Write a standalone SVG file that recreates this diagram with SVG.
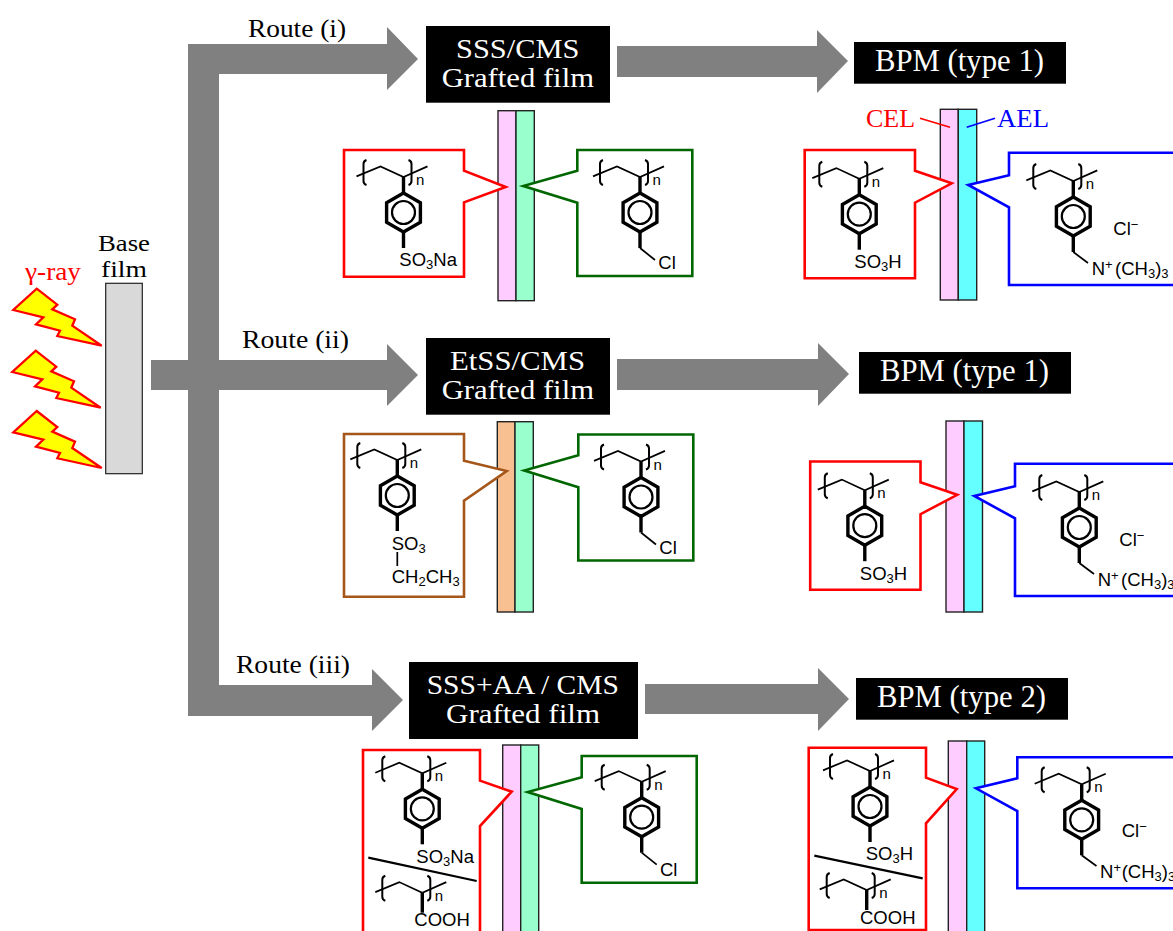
<svg xmlns="http://www.w3.org/2000/svg" width="1173" height="931" viewBox="0 0 1173 931">
<style>
text{font-family:"Liberation Serif","DejaVu Serif",serif}
.lbl{font-size:26px;fill:#000}
.base{font-size:23px;fill:#000}
.box{font-size:28px;fill:#fff}
.bpm{font-size:31px;fill:#fff}
.red{fill:#f00}.blue{fill:#00f}
.chem{font-family:"Liberation Sans",Arial,sans-serif;font-size:18.5px;fill:#000}
.n{font-family:"Liberation Sans",Arial,sans-serif;font-size:15px;fill:#000}
.arrow{fill:#808080}
.bolt{fill:#ff0;stroke:#f00;stroke-width:2.3}
.film{stroke:#222;stroke-width:1.4}
.call{fill:#fff;stroke-width:2.6}
.thin{fill:none;stroke:#000;stroke-width:1.7}
.thick{fill:none;stroke:#000;stroke-width:3.4}
.mid{fill:none;stroke:#000;stroke-width:2}
</style>
<defs>
<g id="chain">
<path class="thin" d="M-47,-.6L-23,-10.6L0,0L24,-10.6"/>
<path class="mid" d="M-37,-17Q-40,-16 -40,-13V4Q-40,7 -37,8M5,-17Q8,-16 8,-13V4Q8,7 5,8"/>
<text class="n" x="12.5" y="8">n</text>
</g>
<g id="ring">
<path class="thick" d="M0,0V16"/>
<path class="thick" d="M0,16L16.9,25.75V45.25L0,55L-16.9,45.25V25.75Z"/>
<circle class="mid" style="stroke-width:2.2" cx="0" cy="35.5" r="11.5"/>
<path class="thick" d="M0,55V71"/>
</g>
<g id="sty"><use href="#chain"/><use href="#ring"/></g>
<g id="aa"><use href="#chain"/><path class="thick" d="M0,0V20"/></g>
<path id="bolt" class="bolt" d="M36.7,288.7L57.3,304.7L52.3,309.3L75,319.3L72.3,325.7L101.7,345.7L57.3,336L60,330.7L36,324.3L43.3,317.3L13.3,310Z"/>
</defs>

<g id="connectors">
<path class="arrow" d="M188,44H387V27L418,59L387,90V74H219V360H387V344L418,375L387,406V390H219V685H372V669L403,700L372,731V716H188V390H151V360H188Z"/>
<path class="arrow" d="M617,46H817V30L848,61L817,93V77H617Z"/>
<path class="arrow" d="M617,359H818V343L849,374L818,406V390H617Z"/>
<path class="arrow" d="M645,684H818V668L849,699L818,731V714H645Z"/>
</g>

<g id="labels">
<text class="lbl" x="248" y="37" textLength="98" lengthAdjust="spacingAndGlyphs">Route (i)</text>
<text class="lbl" x="242" y="348" textLength="107" lengthAdjust="spacingAndGlyphs">Route (ii)</text>
<text class="lbl" x="236" y="673" textLength="114" lengthAdjust="spacingAndGlyphs">Route (iii)</text>
</g>

<g id="base-film">
<rect x="105.7" y="283.3" width="36.6" height="190.4" fill="#d9d9d9" stroke="#222" stroke-width="1.2"/>
<text class="base" x="98" y="251" textLength="52" lengthAdjust="spacingAndGlyphs">Base</text>
<text class="base" x="101" y="276.5" textLength="46" lengthAdjust="spacingAndGlyphs">film</text>
</g>
<g id="gamma-ray">
<text class="lbl red" x="25" y="280" textLength="56" lengthAdjust="spacingAndGlyphs">γ-ray</text>
<use href="#bolt"/>
<use href="#bolt" transform="translate(-1,62)"/>
<use href="#bolt" transform="translate(0,122.3)"/>
</g>

<g id="box-sss">
<rect x="426" y="26" width="184" height="76.7"/>
<text class="box" x="456" y="57.5" textLength="123.3" lengthAdjust="spacingAndGlyphs">SSS/CMS</text>
<text class="box" x="441.7" y="86.7" textLength="152.3" lengthAdjust="spacingAndGlyphs">Grafted film</text>
</g>
<g id="box-etss">
<rect x="426" y="338" width="184" height="76.7"/>
<text class="box" x="450" y="370" textLength="135" lengthAdjust="spacingAndGlyphs">EtSS/CMS</text>
<text class="box" x="441.7" y="399" textLength="152.3" lengthAdjust="spacingAndGlyphs">Grafted film</text>
</g>
<g id="box-sssaa">
<rect x="409" y="662" width="229" height="77"/>
<text class="box" x="426.7" y="693.5" textLength="192.3" lengthAdjust="spacingAndGlyphs">SSS+AA / CMS</text>
<text class="box" x="446" y="722.5" textLength="154" lengthAdjust="spacingAndGlyphs">Grafted film</text>
</g>
<g id="bpm-1a">
<rect x="854" y="42" width="212" height="41.7"/>
<text class="bpm" x="875" y="70.7" textLength="169" lengthAdjust="spacingAndGlyphs">BPM (type 1)</text>
</g>
<g id="bpm-1b">
<rect x="859" y="352" width="212" height="41.7"/>
<text class="bpm" x="880" y="380.7" textLength="169" lengthAdjust="spacingAndGlyphs">BPM (type 1)</text>
</g>
<g id="bpm-2">
<rect x="856" y="678" width="212" height="41.7"/>
<text class="bpm" x="877" y="706.7" textLength="169" lengthAdjust="spacingAndGlyphs">BPM (type 2)</text>
</g>

<g id="membrane-1L">
<rect class="film" x="498" y="110.7" width="18" height="190" fill="#ffccff"/>
<rect class="film" x="516" y="110.7" width="18.3" height="190" fill="#99ffcc"/>
</g>
<g id="membrane-1R">
<rect class="film" x="940.3" y="109.3" width="18" height="190.7" fill="#ffccff"/>
<rect class="film" x="958.3" y="109.3" width="18.4" height="190.7" fill="#66ffff"/>
</g>
<g id="membrane-2L">
<rect class="film" x="497.3" y="421.7" width="17.7" height="190.3" fill="#f8c090"/>
<rect class="film" x="515" y="421.7" width="18.3" height="190.3" fill="#99ffcc"/>
</g>
<g id="membrane-2R">
<rect class="film" x="946" y="421" width="18" height="191" fill="#ffccff"/>
<rect class="film" x="964" y="421" width="18.5" height="191" fill="#66ffff"/>
</g>
<g id="membrane-3L">
<rect class="film" x="502.7" y="745" width="18" height="200" fill="#ffccff"/>
<rect class="film" x="520.7" y="745" width="18" height="200" fill="#99ffcc"/>
</g>
<g id="membrane-3R">
<rect class="film" x="948.3" y="741" width="18.4" height="204" fill="#ffccff"/>
<rect class="film" x="966.7" y="741" width="18" height="204" fill="#66ffff"/>
</g>

<g id="cel-ael">
<text class="lbl red" x="866" y="127" textLength="49" lengthAdjust="spacingAndGlyphs">CEL</text>
<text class="lbl blue" x="997" y="127" textLength="52" lengthAdjust="spacingAndGlyphs">AEL</text>
<path d="M920,118.3L950,127.3" stroke="#f00" stroke-width="1.7" fill="none"/>
<path d="M995,118.3L966.7,127.3" stroke="#00f" stroke-width="1.7" fill="none"/>
</g>

<g id="callout-sssna">
<path class="call" stroke="#f00" d="M344,150H464V170.7L505.7,187L464,202.3V276.7H344Z"/>
<use href="#sty" x="403.5" y="177"/>
<text class="chem" x="399.3" y="266">SO<tspan font-size="13" dy="3">3</tspan><tspan dy="-3">Na</tspan></text>
</g>
<g id="callout-cms-1">
<path class="call" stroke="#060" d="M577.3,150H692.3V276H577.3V202.7L523.3,186L577.3,170.7Z"/>
<use href="#sty" x="640" y="177"/>
<path class="thin" d="M640,248L655,260"/>
<text class="chem" x="658.3" y="269">Cl</text>
</g>
<g id="callout-so3h-1">
<path class="call" stroke="#f00" d="M804.7,150H915V170.7L951.7,183.3L915,202.7V278.3H804.7Z"/>
<use href="#sty" x="859.3" y="178.7"/>
<text class="chem" x="854.3" y="268">SO<tspan font-size="13" dy="3">3</tspan><tspan dy="-3">H</tspan></text>
</g>
<g id="callout-n-1">
<path class="call" stroke="#00f" d="M1180,152.7H1009V175.3L968.3,185L1009,207.3V285H1180"/>
<use href="#sty" x="1073.3" y="181"/>
<path class="thin" d="M1073.3,252L1088,263"/>
<text class="chem" x="1113.3" y="234.5">Cl<tspan font-size="13" dy="-6">−</tspan></text>
<text class="chem" x="1091.7" y="274.5">N<tspan font-size="13" dy="-6">+</tspan><tspan x="1115" dy="6">(CH</tspan><tspan font-size="13" dy="3">3</tspan><tspan dy="-3">)</tspan><tspan font-size="13" dy="3">3</tspan></text>
</g>

<g id="callout-etss">
<path class="call" stroke="#a5561a" d="M344,434H464V460.7L506.7,471L464,500.7V596.7H344Z"/>
<use href="#sty" x="397.3" y="460"/>
<text class="chem" x="391.7" y="549.5">SO<tspan font-size="13" dy="3">3</tspan></text>
<path class="thin" d="M397.3,552V566"/>
<text class="chem" x="391.7" y="583">CH<tspan font-size="13" dy="3">2</tspan><tspan dy="-3">CH</tspan><tspan font-size="13" dy="3">3</tspan></text>
</g>
<g id="callout-cms-2">
<path class="call" stroke="#060" d="M578.3,434.5H693.3V560.5H578.3V487.2L524.3,470.5L578.3,455.2Z"/>
<use href="#sty" x="641" y="461.5"/>
<path class="thin" d="M641,532.5L656,544.5"/>
<text class="chem" x="659.3" y="553.5">Cl</text>
</g>
<g id="callout-so3h-2">
<path class="call" stroke="#f00" d="M810.2,461.5H920.5V482.2L957.2,494.8L920.5,514.2V589.8H810.2Z"/>
<use href="#sty" x="864.8" y="490.2"/>
<text class="chem" x="859.8" y="579.5">SO<tspan font-size="13" dy="3">3</tspan><tspan dy="-3">H</tspan></text>
</g>
<g id="callout-n-2">
<path class="call" stroke="#00f" d="M1180,463.7H1015V486.3L974.3,496L1015,518.3V596H1180"/>
<use href="#sty" x="1079.3" y="492"/>
<path class="thin" d="M1079.3,563L1094,574"/>
<text class="chem" x="1119.3" y="545.5">Cl<tspan font-size="13" dy="-6">−</tspan></text>
<text class="chem" x="1097.7" y="585.5">N<tspan font-size="13" dy="-6">+</tspan><tspan x="1121" dy="6">(CH</tspan><tspan font-size="13" dy="3">3</tspan><tspan dy="-3">)</tspan><tspan font-size="13" dy="3">3</tspan></text>
</g>

<g id="callout-sssna-aa">
<path class="call" stroke="#f00" d="M363,750H480V780.7L511.7,791.7L480,826V940H363Z"/>
<use href="#sty" x="422.3" y="773.3"/>
<text class="chem" x="416.3" y="863">SO<tspan font-size="13" dy="3">3</tspan><tspan dy="-3">Na</tspan></text>
<path d="M368.3,857.7L476.7,881" stroke="#000" stroke-width="2.2" fill="none"/>
<use href="#aa" x="422.3" y="892.7"/>
<text class="chem" x="414.3" y="926">COOH</text>
</g>
<g id="callout-cms-3">
<path class="call" stroke="#060" d="M581.7,756H696.7V882.7H581.7V809L527.7,792L581.7,777.3Z"/>
<use href="#sty" x="641.7" y="781.7"/>
<path class="thin" d="M641.7,852.7L656.7,864.7"/>
<text class="chem" x="660" y="875.5">Cl</text>
</g>
<g id="callout-so3h-aa">
<path class="call" stroke="#f00" d="M808.7,747.7H926V777.7L956.7,789L926,823.3V930H808.7Z"/>
<use href="#sty" x="870" y="771"/>
<text class="chem" x="865.7" y="860">SO<tspan font-size="13" dy="3">3</tspan><tspan dy="-3">H</tspan></text>
<path d="M814.3,855.7L922.7,878.3" stroke="#000" stroke-width="2.2" fill="none"/>
<use href="#aa" x="866.7" y="890"/>
<text class="chem" x="860" y="923.5">COOH</text>
</g>
<g id="callout-n-3">
<path class="call" stroke="#00f" d="M1180,757.3H1017.3V778.3L976,788.3L1017.3,811V888.3H1180"/>
<use href="#sty" x="1081.7" y="784.3"/>
<path class="thin" d="M1081.7,855.3L1096.5,866"/>
<text class="chem" x="1121.7" y="837">Cl<tspan font-size="13" dy="-6">−</tspan></text>
<text class="chem" x="1100" y="877.5">N<tspan font-size="13" dy="-6">+</tspan><tspan x="1121.7" dy="6">(CH</tspan><tspan font-size="13" dy="3">3</tspan><tspan dy="-3">)</tspan><tspan font-size="13" dy="3">3</tspan></text>
</g>
</svg>
